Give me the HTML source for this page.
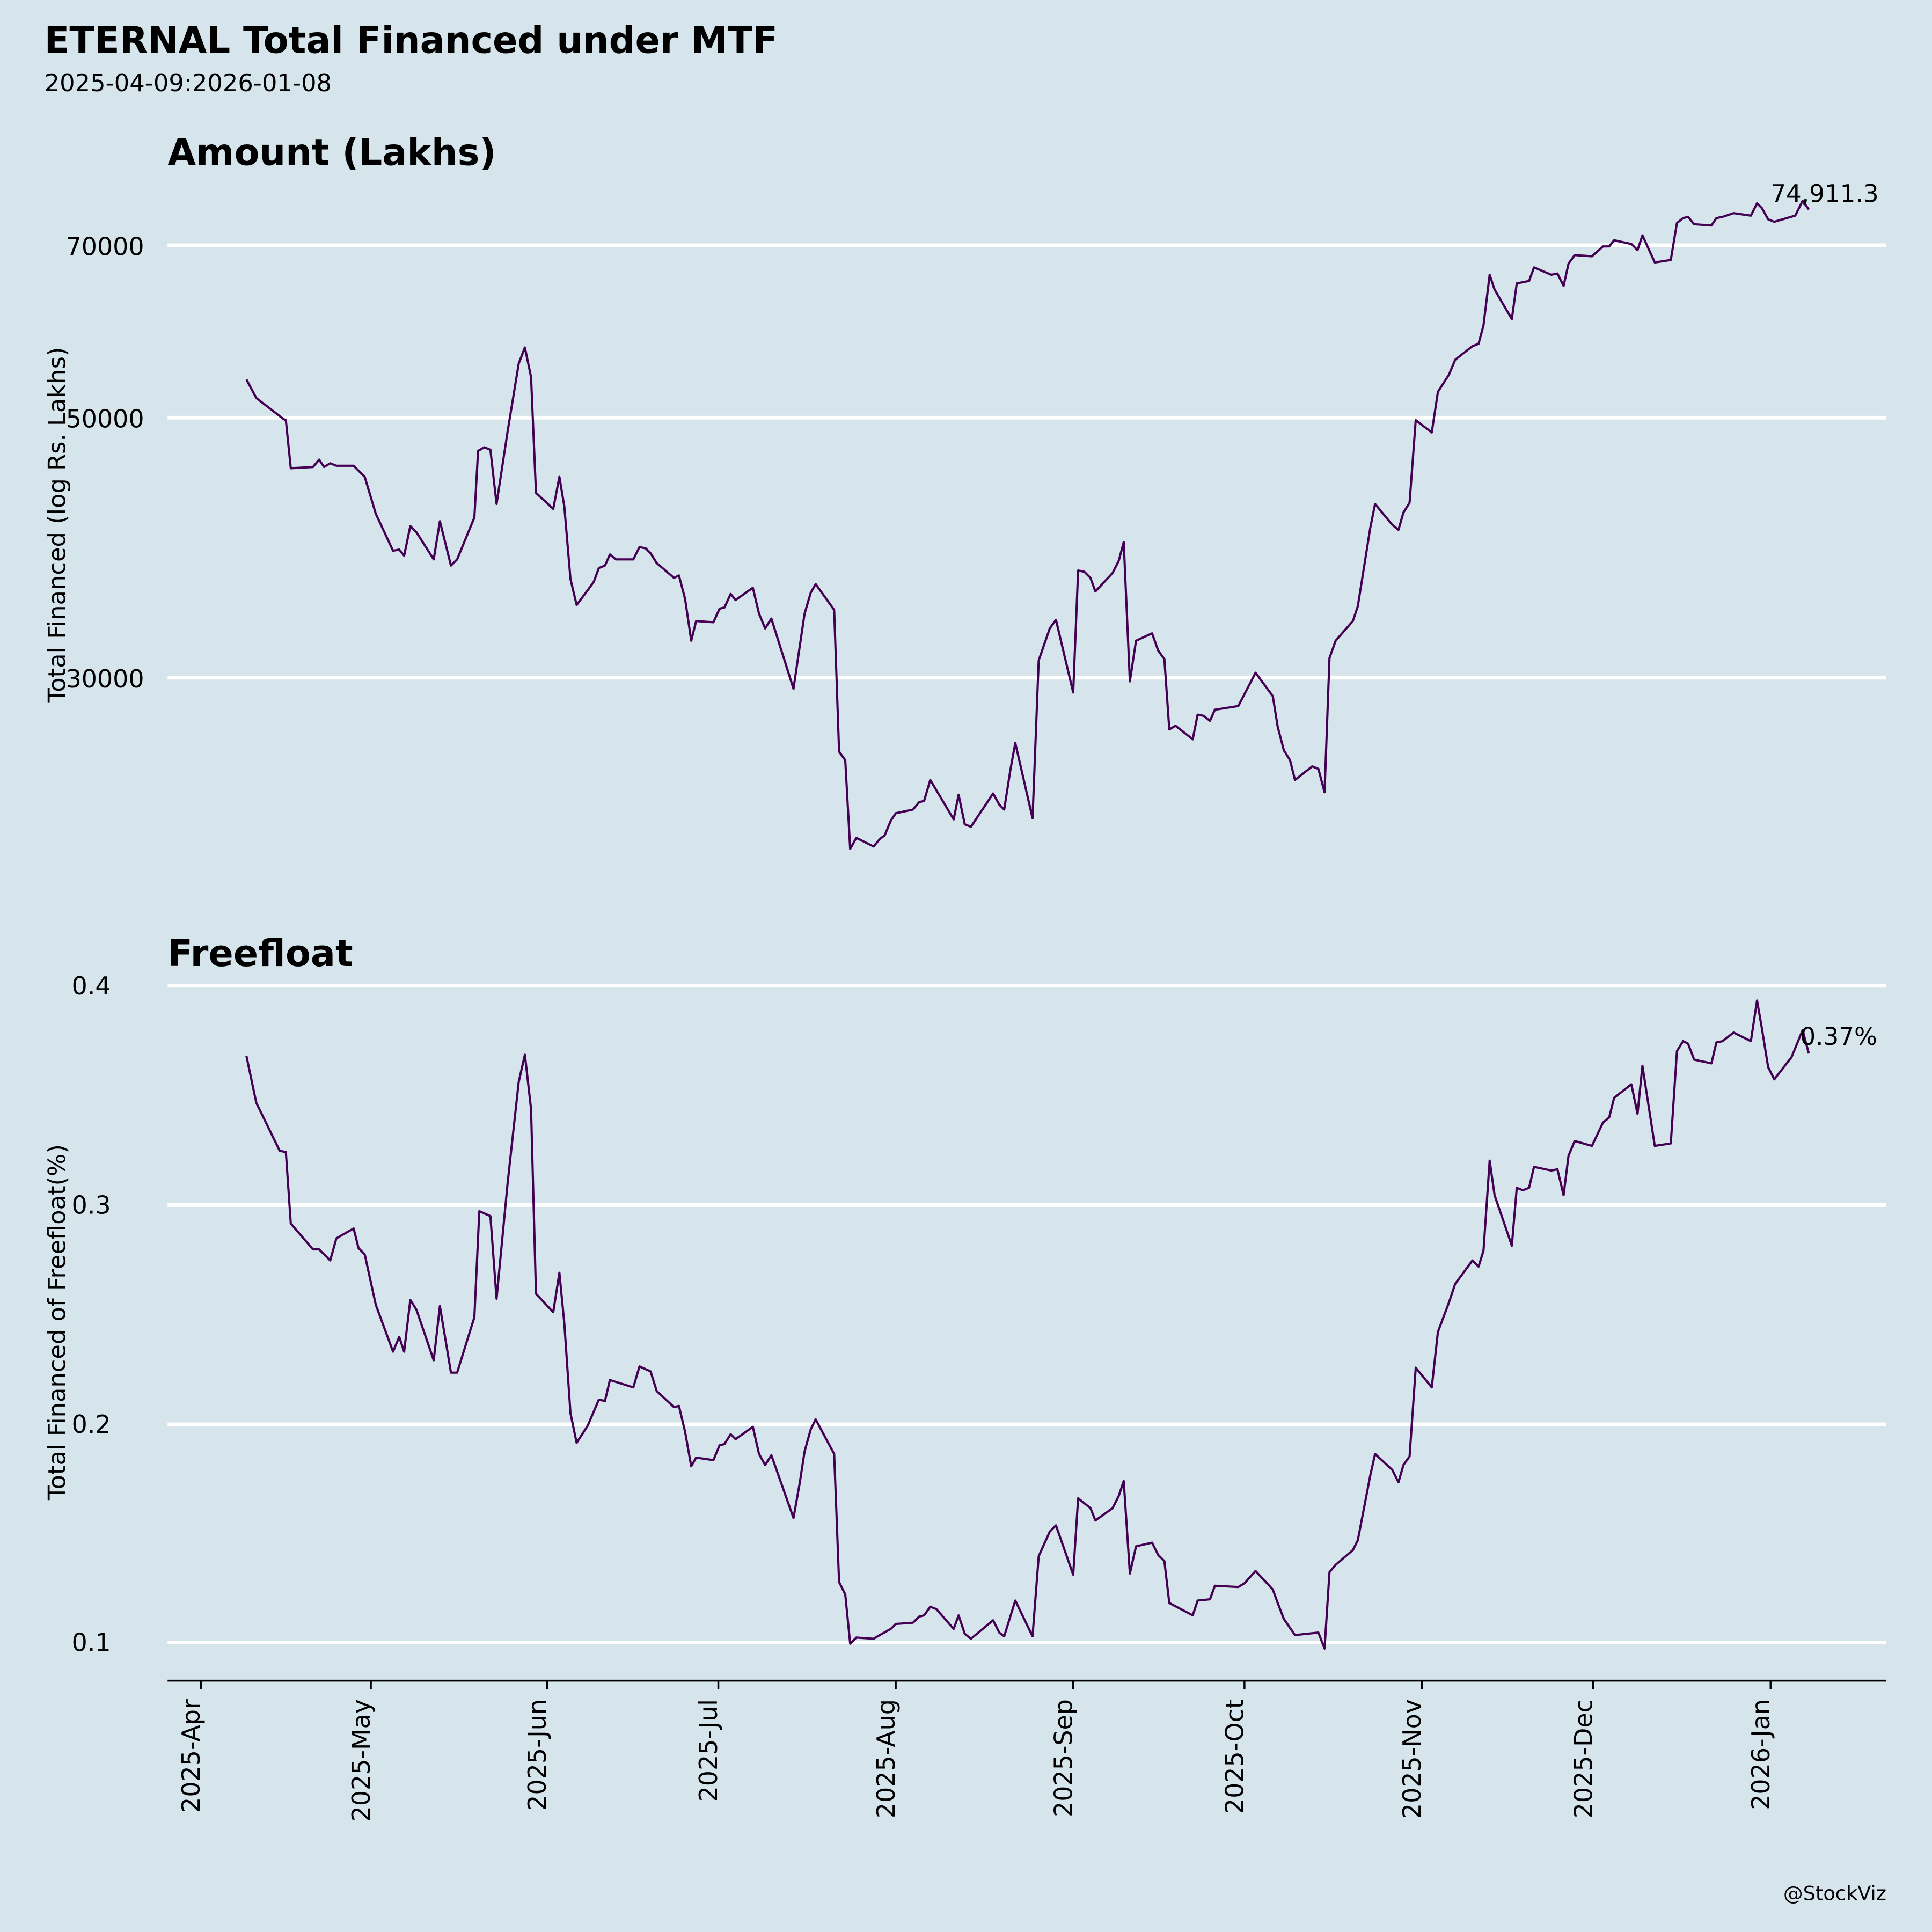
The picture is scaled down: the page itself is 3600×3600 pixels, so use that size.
<!DOCTYPE html>
<html><head><meta charset="utf-8"><style>html,body{margin:0;padding:0;background:#d6e4eb}svg{display:block}text{font-family:"DejaVu Sans","Liberation Sans",sans-serif;fill:#000}</style></head><body>
<svg width="3600" height="3600" viewBox="0 0 1568 1568" xmlns="http://www.w3.org/2000/svg">
<rect width="1568" height="1568" fill="#d6e4eb"/>
<text x="36" y="43" font-size="29.8" font-weight="bold">ETERNAL Total Financed under MTF</text>
<text x="36" y="74" font-size="19.5">2025-04-09:2026-01-08</text>
<text x="136" y="134" font-size="29.8" font-weight="bold">Amount (Lakhs)</text>
<text x="136" y="784" font-size="29.8" font-weight="bold">Freefloat</text>
<g stroke="#fff" stroke-width="3">
<line x1="136" y1="199" x2="1531" y2="199"/><line x1="136" y1="339" x2="1531" y2="339"/><line x1="136" y1="550" x2="1531" y2="550"/>
<line x1="136" y1="800" x2="1531" y2="800"/><line x1="136" y1="978" x2="1531" y2="978"/><line x1="136" y1="1156" x2="1531" y2="1156"/><line x1="136" y1="1333" x2="1531" y2="1333"/>
</g>
<g font-size="20" text-anchor="end">
<text x="117" y="207">70000</text><text x="117" y="347">50000</text><text x="117" y="558">30000</text>
<text x="90" y="807">0.4</text><text x="90" y="985">0.3</text><text x="90" y="1163">0.2</text><text x="90" y="1340">0.1</text>
</g>
<text transform="translate(53,426) rotate(-90)" font-size="19.5" text-anchor="middle">Total Financed (log Rs. Lakhs)</text>
<text transform="translate(53,1073) rotate(-90)" font-size="19.5" text-anchor="middle">Total Financed of Freefloat(%)</text>
<line x1="136" y1="1364" x2="1531" y2="1364" stroke="#000" stroke-width="1.5"/>
<g stroke="#000" stroke-width="1.5">
<line x1="163" y1="1364" x2="163" y2="1371"/><line x1="301" y1="1364" x2="301" y2="1371"/><line x1="444" y1="1364" x2="444" y2="1371"/><line x1="583" y1="1364" x2="583" y2="1371"/><line x1="727" y1="1364" x2="727" y2="1371"/><line x1="871" y1="1364" x2="871" y2="1371"/><line x1="1010" y1="1364" x2="1010" y2="1371"/><line x1="1154" y1="1364" x2="1154" y2="1371"/><line x1="1293" y1="1364" x2="1293" y2="1371"/><line x1="1437" y1="1364" x2="1437" y2="1371"/>
</g>
<g font-size="20" text-anchor="end">
<text transform="translate(162,1379) rotate(-90)">2025-Apr</text>
<text transform="translate(300,1379) rotate(-90)">2025-May</text>
<text transform="translate(443,1379) rotate(-90)">2025-Jun</text>
<text transform="translate(582,1379) rotate(-90)">2025-Jul</text>
<text transform="translate(726,1379) rotate(-90)">2025-Aug</text>
<text transform="translate(870,1379) rotate(-90)">2025-Sep</text>
<text transform="translate(1009,1379) rotate(-90)">2025-Oct</text>
<text transform="translate(1153,1379) rotate(-90)">2025-Nov</text>
<text transform="translate(1292,1379) rotate(-90)">2025-Dec</text>
<text transform="translate(1436,1379) rotate(-90)">2026-Jan</text>
</g>
<g fill="none" stroke="#440154" stroke-width="1.8" stroke-linejoin="round">
<polyline points="200,308 208,323 230,340 232,341 236,380 254,379 259,373 263,379 268,376 273,378 287,378 296,387 305,417 319,447 324,446 328,451 333,427 338,432 352,454 357,423 366,459 371,454 385,420 388,366 393,363 398,365 403,409 412,350 421,295 426,282 431,306 435,400 449,413 454,387 458,411 463,470 468,491 477,479 482,472 486,461 491,459 495,450 500,454 514,454 519,444 524,445 528,449 533,457 547,469 551,467 556,486 561,520 565,504 579,505 584,494 588,493 593,482 597,487 611,477 616,498 621,510 626,502 644,559 649,525 653,498 658,481 662,474 677,495 681,610 686,617 690,689 695,680 709,687 714,681 718,678 723,666 727,660 741,657 746,651 750,650 755,633 774,665 778,645 783,669 788,671 806,644 811,653 815,657 820,625 824,603 838,664 843,536 852,510 857,503 871,562 875,463 880,464 885,469 889,480 903,465 908,455 912,440 917,553 922,520 935,514 940,528 945,535 949,592 954,589 968,600 972,580 977,581 982,585 986,576 1005,573 1019,546 1033,565 1037,590 1042,609 1047,617 1051,633 1065,622 1070,624 1075,643 1079,534 1084,520 1098,504 1102,492 1112,429 1116,409 1130,426 1135,430 1139,416 1144,408 1149,341 1162,351 1167,318 1176,304 1181,292 1195,281 1200,279 1204,264 1209,223 1213,235 1227,259 1231,230 1241,228 1245,217 1259,223 1264,222 1269,232 1273,214 1278,207 1292,208 1301,200 1306,200 1310,195 1324,198 1329,203 1333,191 1343,213 1356,211 1361,181 1366,177 1370,176 1375,182 1389,183 1393,177 1398,176 1407,173 1421,175 1426,165 1430,169 1435,178 1440,180 1457,175 1463,163 1468,170"/>
<polyline points="200,857 208,895 227,934 232,935 236,993 254,1014 259,1014 268,1023 273,1005 287,997 291,1013 296,1018 305,1059 319,1097 324,1085 328,1097 333,1055 338,1063 352,1104 357,1060 366,1114 371,1114 385,1069 389,983 398,987 403,1054 412,960 421,878 426,856 431,900 435,1050 449,1065 454,1033 458,1074 463,1147 468,1171 477,1157 486,1136 491,1137 495,1120 514,1126 519,1109 528,1113 533,1129 547,1142 551,1141 556,1162 561,1190 565,1183 579,1185 584,1173 588,1172 593,1164 597,1168 611,1158 616,1180 621,1189 626,1181 644,1232 649,1204 653,1178 658,1160 662,1152 677,1180 681,1284 686,1294 690,1334 695,1329 709,1330 714,1327 723,1322 727,1318 741,1317 746,1312 750,1311 755,1304 760,1306 774,1322 778,1311 783,1326 788,1330 806,1315 811,1325 815,1328 824,1299 838,1328 843,1263 852,1243 857,1238 871,1278 875,1216 885,1224 889,1234 903,1224 908,1214 912,1202 917,1277 922,1255 935,1252 940,1262 945,1267 949,1301 968,1311 972,1299 982,1298 986,1287 1005,1288 1010,1285 1019,1275 1033,1290 1037,1301 1042,1314 1051,1327 1070,1325 1075,1338 1079,1276 1084,1270 1098,1258 1102,1250 1112,1198 1116,1180 1130,1193 1135,1203 1139,1189 1144,1182 1149,1110 1162,1126 1167,1081 1176,1057 1181,1042 1195,1023 1200,1028 1204,1015 1209,942 1213,970 1227,1011 1231,964 1236,966 1241,964 1245,947 1259,950 1264,949 1269,970 1273,938 1278,926 1292,930 1301,911 1306,907 1310,891 1324,880 1329,904 1333,865 1343,930 1356,928 1361,853 1366,845 1370,847 1375,860 1389,863 1393,846 1398,845 1407,838 1421,845 1426,812 1430,835 1435,866 1440,876 1454,858 1463,836 1468,855"/>
</g>
<text x="1437" y="164" font-size="19.7">74,911.3</text>
<text x="1461" y="848" font-size="19.7">0.37%</text>
<text x="1531" y="1542" font-size="16" text-anchor="end">@StockViz</text>
</svg>
</body></html>
